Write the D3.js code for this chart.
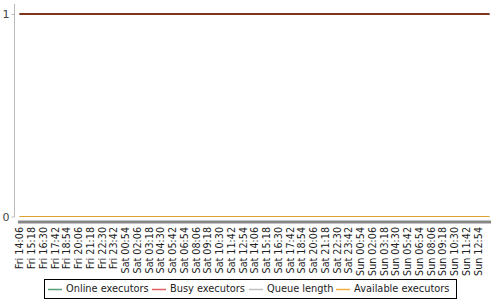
<!DOCTYPE html>
<html><head><meta charset="utf-8">
<script src="https://cdn.jsdelivr.net/npm/d3@7"></script>
<style>body{margin:0;background:#fff}svg{display:block}</style>
</head><body>
<svg id="c" width="500" height="300"></svg>
<script>
const timeLabels = ["Fri 14:06","Fri 15:18","Fri 16:30","Fri 17:42","Fri 18:54","Fri 20:06","Fri 21:18","Fri 22:30","Fri 23:42",
"Sat 00:54","Sat 02:06","Sat 03:18","Sat 04:30","Sat 05:42","Sat 06:54","Sat 08:06","Sat 09:18","Sat 10:30","Sat 11:42","Sat 12:54",
"Sat 14:06","Sat 15:18","Sat 16:30","Sat 17:42","Sat 18:54","Sat 20:06","Sat 21:18","Sat 22:30","Sat 23:42",
"Sun 00:54","Sun 02:06","Sun 03:18","Sun 04:30","Sun 05:42","Sun 06:54","Sun 08:06","Sun 09:18","Sun 10:30","Sun 11:42","Sun 12:54","Sun 14:06"];
const shownLabels = timeLabels.slice(0, 40);
const onlineExecutors = timeLabels.map(() => 1);
const busyExecutors = timeLabels.map(() => 1);
const queueLength = timeLabels.map(() => 0);
const availableExecutors = timeLabels.map(() => 0);
const seriesNames = ["Online executors","Busy executors","Queue length","Available executors"];
const yTicks = [0, 1];

const svg = d3.select("#c");
const x = d3.scalePoint().domain(timeLabels).range([19.5, 489.5]);
const y = d3.scaleLinear().domain([0, 1]).range([216.5, 14]);

// y axis
const ya = svg.append("g").attr("transform","translate(14.5,0)")
  .call(d3.axisLeft(y).tickValues(yTicks).tickSize(3).tickFormat(d3.format("d")));
ya.select(".domain").attr("d","M0,4V217").attr("stroke","#bbb");
ya.selectAll(".tick line").attr("stroke","#bbb");
ya.selectAll("text").attr("font-family","'DejaVu Sans', sans-serif").attr("font-size",11).attr("fill","#444").attr("x",-5);

// x axis
const xa = svg.append("g").attr("transform","translate(0,222)")
  .call(d3.axisBottom(x).tickValues(shownLabels).tickSize(0).tickPadding(0));
xa.select(".domain").attr("d","M18,0H491").attr("stroke","#888").attr("stroke-width",3);
xa.selectAll("text").attr("font-family","'DejaVu Sans', sans-serif").attr("font-size",9.6).attr("fill","#222")
  .attr("transform","rotate(-90)").attr("text-anchor","end").attr("x",-5).attr("y",0).attr("dy","0.35em");

const line = d3.line().x((d,i)=>x(timeLabels[i])).y(d=>y(d));
const colors = ["#5a9e78","#e06060","#c0c0c0","#f0b040"];
svg.append("path").datum(queueLength).attr("d",line).attr("fill","none").attr("stroke",colors[2]).attr("stroke-width",1);
svg.append("path").datum(availableExecutors).attr("d",line).attr("fill","none").attr("stroke","#e0a030").attr("stroke-width",1.2);
svg.append("path").datum(onlineExecutors).attr("d",line).attr("fill","none").attr("stroke",colors[0]).attr("stroke-width",2);
svg.append("path").datum(busyExecutors).attr("d",line).attr("fill","none").attr("stroke","#7e3520").attr("stroke-width",2.2);

// legend
const lg = svg.append("g");
lg.append("rect").attr("x",44.5).attr("y",279.5).attr("width",412).attr("height",19).attr("fill","#fff").attr("stroke","#000");
const lx = [48, 152, 249, 336];
seriesNames.forEach((n,i)=>{
  lg.append("line").attr("x1",lx[i]).attr("x2",lx[i]+14).attr("y1",289.5).attr("y2",289.5).attr("stroke",colors[i]).attr("stroke-width",1.5);
  lg.append("text").attr("x",lx[i]+18).attr("y",289).attr("dy","0.35em").attr("font-family","'DejaVu Sans', sans-serif")
    .attr("font-size",9.8).attr("fill","#222").text(n);
});
</script>
</body></html>
